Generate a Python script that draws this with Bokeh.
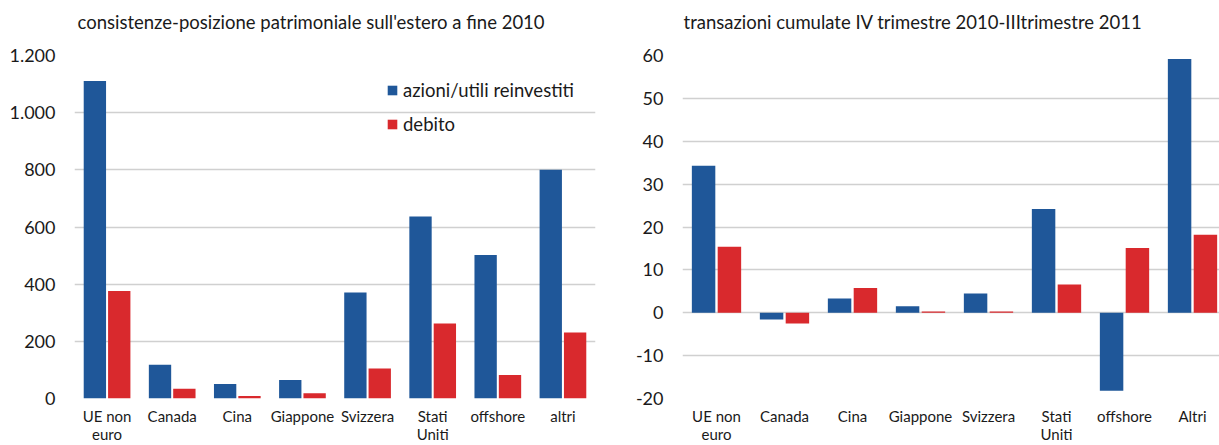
from bokeh.plotting import figure
from bokeh.models import FixedTicker, Range1d, Legend, LegendItem, ColumnDataSource
from bokeh.transform import dodge
from bokeh.layouts import row
from bokeh.embed import file_html
from bokeh.resources import INLINE

# ---- data ----
categories_left = ["UE non\neuro", "Canada", "Cina", "Giappone", "Svizzera", "Stati\nUniti", "offshore", "altri"]
categories_right = ["UE non\neuro", "Canada", "Cina", "Giappone", "Svizzera", "Stati\nUniti", "offshore", "Altri"]
series_names = ["azioni/utili reinvestiti", "debito"]
azioni_stock = [1111, 118, 51, 65, 371, 637, 502, 800]
debito_stock = [376, 34, 9, 18, 105, 262, 82, 231]
azioni_flow = [34.3, -1.6, 3.3, 1.5, 4.5, 24.2, -18.2, 59.2]
debito_flow = [15.4, -2.5, 5.8, 0.3, 0.3, 6.6, 15.1, 18.2]
left_ticks = [0, 200, 400, 600, 800, 1000, 1200]
left_tick_labels = ["0", "200", "400", "600", "800", "1.000", "1.200"]
right_ticks = [-20, -10, 0, 10, 20, 30, 40, 50, 60]
right_tick_labels = ["-20", "-10", "0", "10", "20", "30", "40", "50", "60"]
title_left = "consistenze-posizione patrimoniale sull'estero a fine 2010"
title_right = "transazioni cumulate IV trimestre 2010-IIItrimestre 2011"

BLUE = "#1F5799"
RED = "#D9292D"
GRID = "#D0D0D0"
TXT = "#1a1a1a"
FONT = "Lato"


def make_fig(title, cats, a_vals, d_vals, yticks, ylabels, yr, xr, width, bl, br, offset, bar_w, dx, legend):
    p = figure(width=width, height=445, output_backend="svg", toolbar_location=None,
               x_range=Range1d(*xr), y_range=Range1d(*yr),
               min_border_left=bl, min_border_right=br, min_border_top=55, min_border_bottom=47,
               outline_line_color=None, background_fill_color="white", border_fill_color="white")
    p.title.text = title
    p.title.text_font = FONT
    p.title.text_font_size = "18.5px"
    p.title.text_font_style = "normal"
    p.title.text_color = TXT
    p.title.align = "left"
    p.title.offset = offset
    p.title.vertical_align = "bottom"
    p.title.standoff = 0
    p.title.padding = {"left": 0, "right": 0, "top": 0, "bottom": 23}

    src = ColumnDataSource(dict(idx=list(range(len(cats))), a=a_vals, d=d_vals))
    ra = p.vbar(x=dodge("idx", -dx), top="a", bottom=0, width=bar_w, source=src,
                fill_color=BLUE, line_color=None)
    rd = p.vbar(x=dodge("idx", dx), top="d", bottom=0, width=bar_w, source=src,
                fill_color=RED, line_color=None)

    p.xgrid.grid_line_color = None
    p.ygrid.grid_line_color = GRID
    p.ygrid.grid_line_width = 1.6
    p.ygrid.ticker = FixedTicker(ticks=yticks)

    p.yaxis.ticker = FixedTicker(ticks=yticks)
    p.yaxis.major_label_overrides = {t: l for t, l in zip(yticks, ylabels)}
    p.yaxis.axis_line_color = None
    p.yaxis.major_tick_line_color = None
    p.yaxis.minor_tick_line_color = None
    p.yaxis.major_tick_out = 0
    p.yaxis.major_tick_in = 0
    p.yaxis.major_label_text_font = FONT
    p.yaxis.major_label_text_font_size = "18px"
    p.yaxis.major_label_text_color = TXT
    p.yaxis.major_label_standoff = 19

    p.xaxis.ticker = FixedTicker(ticks=list(range(len(cats))))
    p.xaxis.major_label_overrides = {i: c for i, c in enumerate(cats)}
    p.xaxis.axis_line_color = None
    p.xaxis.major_tick_line_color = None
    p.xaxis.minor_tick_line_color = None
    p.xaxis.major_tick_out = 0
    p.xaxis.major_tick_in = 0
    p.xaxis.major_label_text_font = FONT
    p.xaxis.major_label_text_font_size = "15px"
    p.xaxis.major_label_text_line_height = 1.0
    p.xaxis.major_label_text_color = TXT
    p.xaxis.major_label_standoff = 8

    if legend:
        lg = Legend(items=[LegendItem(label=series_names[0], renderers=[ra]),
                           LegendItem(label=series_names[1], renderers=[rd])],
                    location=(312, 263), orientation="vertical",
                    background_fill_alpha=0, border_line_alpha=0,
                    padding=0, margin=0, spacing=12,
                    glyph_width=12, glyph_height=12, label_height=20,
                    label_standoff=5,
                    label_text_font=FONT, label_text_font_size="18.5px",
                    label_text_color=TXT)
        p.add_layout(lg, "center")
    return p


p1 = make_fig(title_left, categories_left, azioni_stock, debito_stock,
              left_ticks, left_tick_labels, (0, 1200), (-0.5, 7.5),
              610, 74, 15, 3, 0.343, 0.187, True)
p2 = make_fig(title_right, categories_right, azioni_flow, debito_flow,
              right_ticks, right_tick_labels, (-20, 60), (-0.5, 7.397),
              609, 72, 0, 1, 0.345, 0.19, False)

layout = row(p1, p2)
open("out.html", "w").write(file_html(layout, INLINE))
